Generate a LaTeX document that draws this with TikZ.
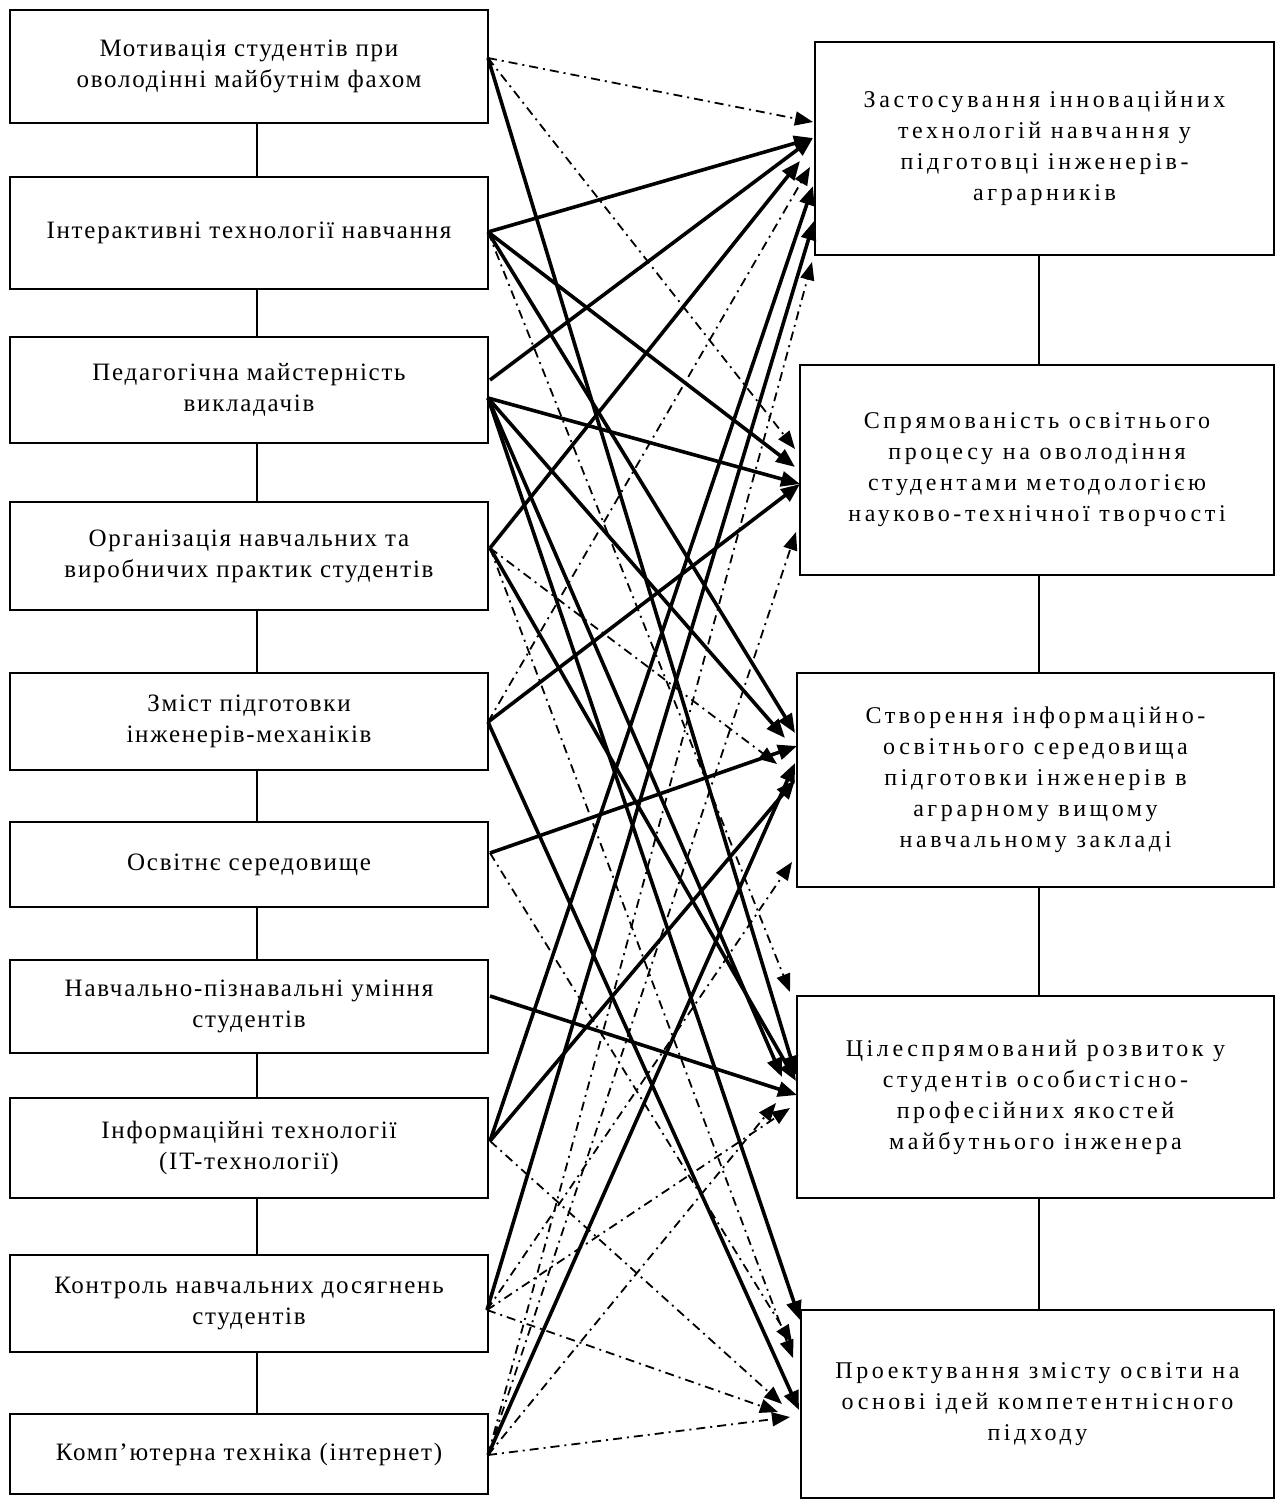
\documentclass[tikz,border=0pt]{standalone}
\usepackage{fontspec}
\setmainfont{Liberation Serif}
\newfontfamily\lfont[LetterSpace=7]{Liberation Serif}
\newfontfamily\rfont[LetterSpace=15]{Liberation Serif}
\usetikzlibrary{arrows.meta}
\begin{document}
\begin{tikzpicture}[x=1pt,y=-1pt,
  lbox/.style={draw,line width=1.6pt,inner sep=0pt,align=center,font=\fontsize{25}{31}\lfont},
  rbox/.style={draw,line width=1.6pt,inner sep=0pt,align=center,font=\fontsize{24}{31}\rfont},
  link/.style={line width=1.6pt},
  solidarr/.style={line width=3.6pt,-{Triangle[length=19pt,width=15pt]}},
  dasharr/.style={line width=1.8pt,dash pattern=on 9pt off 5pt on 2pt off 5pt,-{Triangle[length=18pt,width=14pt]}}]
\useasboundingbox[fill=white] (0,0) rectangle (1276,1499);
% left boxes
\node[lbox,minimum width=478pt,minimum height=113pt] (L1) at (249,66.5) {Мотивація студентів при\\оволодінні майбутнім фахом};
\node[lbox,minimum width=478pt,minimum height=112pt] (L2) at (249,233) {Інтерактивні технології навчання};
\node[lbox,minimum width=478pt,minimum height=106pt] (L3) at (249,390) {Педагогічна майстерність\\викладачів};
\node[lbox,minimum width=478pt,minimum height=108pt] (L4) at (249,556) {Організація навчальних та\\виробничих практик студентів};
\node[lbox,minimum width=478pt,minimum height=97pt] (L5) at (249,721.5) {Зміст підготовки\\інженерів-механіків};
\node[lbox,minimum width=478pt,minimum height=85pt] (L6) at (249,864.5) {Освітнє середовище};
\node[lbox,minimum width=478pt,minimum height=93pt] (L7) at (249,1006.5) {Навчально-пізнавальні уміння\\студентів};
\node[lbox,minimum width=478pt,minimum height=100pt] (L8) at (249,1148) {Інформаційні технології\\(IT-технології)};
\node[lbox,minimum width=478pt,minimum height=97pt] (L9) at (249,1303.5) {Контроль навчальних досягнень\\студентів};
\node[lbox,minimum width=478pt,minimum height=80pt] (L10) at (249,1454) {Комп’ютерна техніка (інтернет)};
% right boxes
\node[rbox,minimum width=459pt,minimum height=213pt] (A) at (1044.5,148.5) {Застосування інноваційних\\технологій навчання у\\підготовці інженерів-\\аграрників};
\node[rbox,minimum width=474pt,minimum height=210pt] (B) at (1037,470) {Спрямованість освітнього\\процесу на оволодіння\\студентами методологією\\науково-технічної творчості};
\node[rbox,minimum width=477pt,minimum height=214pt] (C) at (1035.5,780) {Створення інформаційно-\\освітнього середовища\\підготовки інженерів в\\аграрному вищому\\навчальному закладі};
\node[rbox,minimum width=477pt,minimum height=202pt] (D) at (1035.5,1097) {Цілеспрямований розвиток у\\студентів особистісно-\\професійних якостей\\майбутнього інженера};
\node[rbox,minimum width=473pt,minimum height=188pt] (E) at (1037.5,1404) {Проектування змісту освіти на\\основі ідей компетентнісного\\підходу};
% vertical links
\foreach \a/\b in {L1/L2,L2/L3,L3/L4,L4/L5,L5/L6,L6/L7,L7/L8,L8/L9,L9/L10}
  \draw[link] (257,0 |- \a.south) -- (257,0 |- \b.north);
\foreach \a/\b in {A/B,B/C,C/D,D/E}
  \draw[link] (1039,0 |- \a.south) -- (1039,0 |- \b.north);
% sources
\coordinate (s1) at (488,58);
\coordinate (s2) at (488,232);
\coordinate (s3a) at (490,380);
\coordinate (s3b) at (488,398);
\coordinate (s4) at (490,548);
\coordinate (s5) at (488,722);
\coordinate (s6) at (490,853);
\coordinate (s7) at (490,996);
\coordinate (s8) at (490,1141);
\coordinate (s9) at (487,1310);
\coordinate (s10) at (488,1455);
% targets A
\coordinate (ta1) at (813,122);
\coordinate (ta2) at (813,138);
\coordinate (ta3) at (800,161);
\coordinate (ta4) at (810,167);
\coordinate (ta5) at (813,186);
\coordinate (ta6) at (814,221);
\coordinate (ta7) at (812,262);
% targets B
\coordinate (tb1) at (795,449);
\coordinate (tb2) at (795,467);
\coordinate (tb3) at (800,484);
\coordinate (tb4) at (796,532);
% targets C
\coordinate (tc1) at (795,733);
\coordinate (tc2) at (785,738);
\coordinate (tc3) at (797,746);
\coordinate (tc4) at (777,764);
\coordinate (tc5) at (795,763);
\coordinate (tc6) at (795,780);
\coordinate (tc7) at (792,862);
% targets D
\coordinate (td1) at (790,992);
\coordinate (td2) at (796,1075);
\coordinate (td3) at (782,1077);
\coordinate (td4) at (796,1081);
\coordinate (td5) at (797,1095);
\coordinate (td6) at (776,1103);
\coordinate (td7) at (790,1108);
% targets E
\coordinate (te1) at (800,1320);
\coordinate (te2) at (792,1343);
\coordinate (te3) at (793,1358);
\coordinate (te4) at (782,1404);
\coordinate (te5) at (799,1410);
\coordinate (te6) at (778,1412);
\coordinate (te7) at (790,1417);
% solid arrows
\draw[solidarr] (s2) -- (ta2);
\draw[solidarr] (s3a) -- (ta2);
\draw[solidarr] (s4) -- (ta3);
\draw[solidarr] (s8) -- (ta5);
\draw[solidarr] (s9) -- (ta6);
\draw[solidarr] (s2) -- (tb2);
\draw[solidarr] (s3b) -- (tb3);
\draw[solidarr] (s5) -- (tb3);
\draw[solidarr] (s2) -- (tc1);
\draw[solidarr] (s3b) -- (tc2);
\draw[solidarr] (s6) -- (tc3);
\draw[solidarr] (s10) -- (tc5);
\draw[solidarr] (s8) -- (tc6);
\draw[solidarr] (s1) -- (td2);
\draw[solidarr] (s3b) -- (td3);
\draw[solidarr] (s4) -- (td4);
\draw[solidarr] (s7) -- (td5);
\draw[solidarr] (s3b) -- (te1);
\draw[solidarr] (s5) -- (te5);
% dash-dot arrows
\draw[dasharr] (s1) -- (ta1);
\draw[dasharr] (s5) -- (ta4);
\draw[dasharr] (s10) -- (ta7);
\draw[dasharr] (s1) -- (tb1);
\draw[dasharr] (s10) -- (tb4);
\draw[dasharr] (s4) -- (tc4);
\draw[dasharr] (s9) -- (tc7);
\draw[dasharr] (s2) -- (td1);
\draw[dasharr] (s10) -- (td6);
\draw[dasharr] (s9) -- (td7);
\draw[dasharr] (s6) -- (te2);
\draw[dasharr] (s4) -- (te3);
\draw[dasharr] (s8) -- (te4);
\draw[dasharr] (s9) -- (te6);
\draw[dasharr] (s10) -- (te7);
\end{tikzpicture}
\end{document}
